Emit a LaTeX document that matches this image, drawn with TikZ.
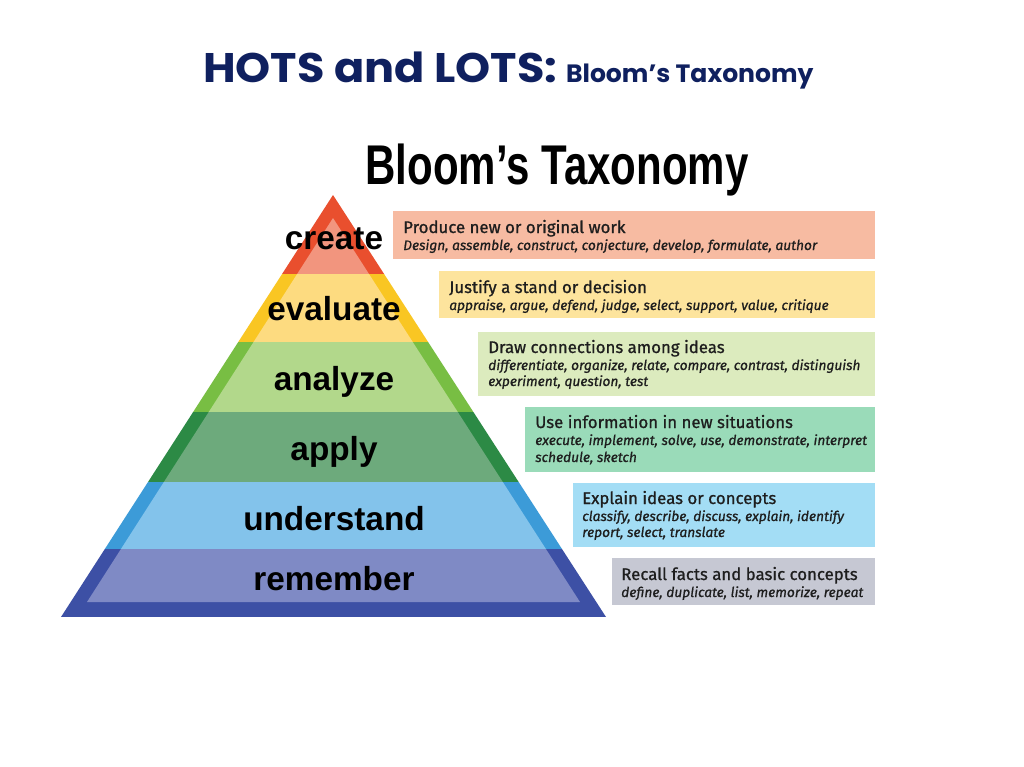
\documentclass[tikz,border=0pt]{standalone}
\usepackage{fontspec}
\usepackage{graphicx}
\setmainfont{Fira Sans}[FakeBold=0.9]
\newfontfamily\levelfont{Liberation Sans}
\newfontfamily\slidefont{Poppins}

\definecolor{navy}{RGB}{15,32,95}
\definecolor{ink}{RGB}{30,30,30}
% pyramid border / fill colours
\definecolor{createOut}{HTML}{E94F2E}  \definecolor{createIn}{HTML}{F2957E}
\definecolor{evalOut}{HTML}{F9C623}    \definecolor{evalIn}{HTML}{FDDB80}
\definecolor{analyzeOut}{HTML}{78BE43} \definecolor{analyzeIn}{HTML}{B2D88B}
\definecolor{applyOut}{HTML}{2C8A45}   \definecolor{applyIn}{HTML}{6DAA7C}
\definecolor{underOut}{HTML}{3C9BD8}   \definecolor{underIn}{HTML}{83C3EB}
\definecolor{rememOut}{HTML}{3D50A5}   \definecolor{rememIn}{HTML}{7F8AC5}
% side boxes
\definecolor{createBox}{HTML}{F7BBA2}
\definecolor{evalBox}{HTML}{FDE49D}
\definecolor{analyzeBox}{HTML}{DCEBBE}
\definecolor{applyBox}{HTML}{9ADBB9}
\definecolor{underBox}{HTML}{A3DDF5}
\definecolor{rememBox}{HTML}{C6C8D3}

\begin{document}
\begin{tikzpicture}[x=0.75pt,y=-0.75pt,
    level/.style={anchor=base, inner sep=0pt, text=black,
                  font=\levelfont\bfseries\fontsize{25}{25}\selectfont},
    head/.style={anchor=base west, inner sep=0pt, text=ink,
                 font=\fontsize{12.6}{13}\selectfont},
    verbs/.style={anchor=base west, inner sep=0pt, text=ink,
                  font=\itshape\fontsize{10.3}{11}\selectfont}]
  \fill[white] (0,0) rectangle (1024,767);
  \useasboundingbox (0,0) rectangle (1024,767);

  % slide title
  \node[anchor=base west, inner sep=0pt, text=navy, font=\slidefont\bfseries]
    (title) at (203,83) {\fontsize{31}{33}\selectfont\scalebox{1.08}[1]{HOTS and LOTS:}
    \fontsize{18.8}{21}\selectfont Bloom’s Taxonomy};
  \node[anchor=base, inner sep=0pt, font=\levelfont\bfseries\fontsize{42}{42}\selectfont]
    (heading) at (557,184) {\scalebox{0.75}[1]{Bloom’s Taxonomy}};

  % pyramid: outer border colours, then inner fills
  \begin{scope}
    \clip (333,195) -- (606,617) -- (61,617) -- cycle;
    \foreach \t/\b/\c in {195/274/createOut, 274/342/evalOut, 342/412/analyzeOut,
                          412/482/applyOut, 482/549/underOut, 549/617/rememOut}
      \fill[\c] (0,\t) rectangle (1024,\b);
  \end{scope}
  \begin{scope}
    \clip (333,218) -- (580,602) -- (87,602) -- cycle;
    \foreach \t/\b/\c in {195/274/createIn, 274/342/evalIn, 342/412/analyzeIn,
                          412/482/applyIn, 482/549/underIn, 549/617/rememIn}
      \fill[\c] (0,\t) rectangle (1024,\b);
  \end{scope}

  \node[level] (create)     at (334,249) {create};
  \node[level] (evaluate)   at (334,320) {evaluate};
  \node[level] (analyze)    at (334,390) {analyze};
  \node[level] (apply)      at (334,460) {apply};
  \node[level] (understand) at (334,530) {understand};
  \node[level] (remember)   at (334,590) {remember};

  % side boxes
  \fill[createBox]  (393,211) rectangle (875,259);
  \fill[evalBox]    (439,271) rectangle (875,318);
  \fill[analyzeBox] (478,332) rectangle (875,396);
  \fill[applyBox]   (525,407) rectangle (875,472);
  \fill[underBox]   (573,483) rectangle (875,547);
  \fill[rememBox]   (612,558) rectangle (875,605);

  \node[head]  (createHead)  at (403,233) {Produce new or original work};
  \node[verbs] (createVerbs) at (403,250) {Design, assemble, construct, conjecture, develop, formulate, author};

  \node[head]  (evalHead)  at (449,293) {Justify a stand or decision};
  \node[verbs] (evalVerbs) at (449,310) {appraise, argue, defend, judge, select, support, value, critique};

  \node[head]  (analyzeHead)   at (488,353) {Draw connections among ideas};
  \node[verbs] (analyzeVerbs)  at (488,370) {differentiate, organize, relate, compare, contrast, distinguish};
  \node[verbs] (analyzeVerbsB) at (488,386) {experiment, question, test};

  \node[head]  (applyHead)   at (535,428) {Use information in new situations};
  \node[verbs] (applyVerbs)  at (535,445) {execute, implement, solve, use, demonstrate, interpret};
  \node[verbs] (applyVerbsB) at (535,462) {schedule, sketch};

  \node[head]  (underHead)   at (582,504) {Explain ideas or concepts};
  \node[verbs] (underVerbs)  at (582,521) {classify, describe, discuss, explain, identify};
  \node[verbs] (underVerbsB) at (582,537) {report, select, translate};

  \node[head]  (rememHead)  at (621,580) {Recall facts and basic concepts};
  \node[verbs] (rememVerbs) at (621,597) {define, duplicate, list, memorize, repeat};
\end{tikzpicture}
\end{document}
